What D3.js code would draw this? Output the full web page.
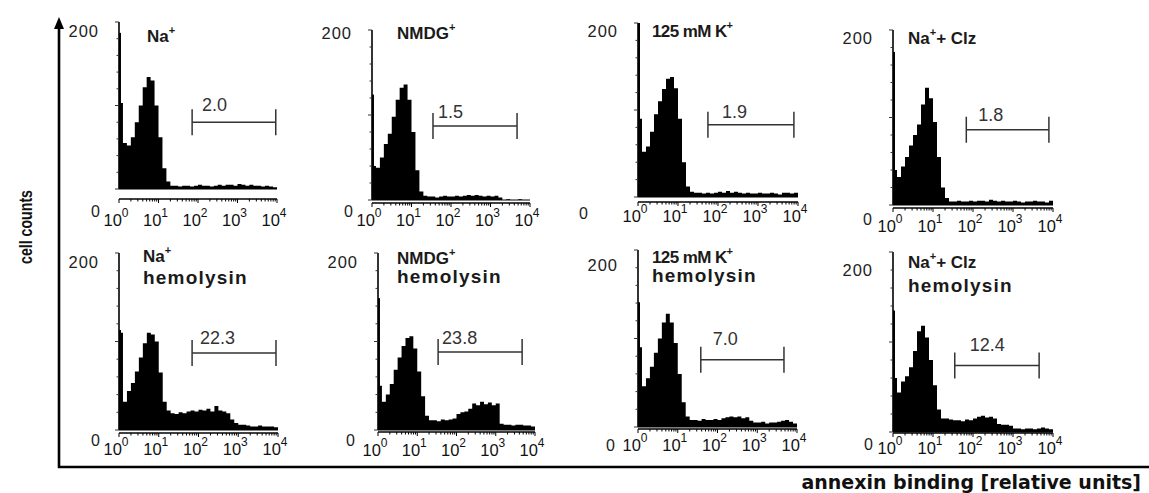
<!DOCTYPE html>
<html><head><meta charset="utf-8">
<script src="https://cdn.jsdelivr.net/npm/d3@7"></script>
<style>body{margin:0;background:#fff} svg{display:block}</style>
</head><body><svg id="c" width="1149" height="493"></svg>
<script>
// ---------- data ----------
const panelTitles = [["Na{+}"],["NMDG{+}"],["125 mM K{+}"],["Na{+}+ Clz"],
  ["Na{+}","hemolysin"],["NMDG{+}","hemolysin"],["125 mM K{+}","hemolysin"],["Na{+}+ Clz","hemolysin"]];
const gateValues = ["2.0","1.5","1.9","1.8","22.3","23.8","7.0","12.4"];
const gateLo = [71, 35, 56, 68, 69, 34, 38, 35];
const gateHi = [9300, 4700, 7900, 7900, 8900, 4700, 4700, 4500];
const gateLevel = [80, 87, 83, 86, 87, 88, 76, 74];
const pileUp = [187, 124, 200, 175, 113, 149, 141, 135];
// counts per 0.1-decade channel, 10^0 .. 10^4
const hNa      = [103,55,52,62,80,100,122,134,130,100, 62,25,9,4,4,3,4,4,3,4, 5,4,4,3,4,5,4,5,5,4, 6,5,4,5,4,4,3,4,3,2];
const hNMDG    = [40,38,50,66,78,98,118,132,136,118, 80,35,10,5,4,4,3,4,5,4, 4,5,4,5,6,5,6,5,4,5, 4,5,3,0,1,0,0,1,0,0];
const hK       = [90,52,58,75,95,110,124,136,138,125, 90,40,12,6,5,5,4,5,4,5, 6,5,7,5,6,5,4,5,4,4, 5,4,4,5,4,3,5,5,4,5];
const hClz     = [40,32,44,55,68,80,92,115,134,122, 95,55,20,8,4,4,5,4,4,5, 4,5,5,4,6,5,4,5,4,4, 5,4,3,4,4,5,4,4,3,5];
const hNaHly   = [110,32,44,53,66,82,98,110,108,100, 65,32,22,19,18,20,19,21,22,21, 23,22,24,21,27,22,21,19,12,8, 6,6,5,4,4,5,4,4,4,3];
const hNMDGHly = [50,32,40,52,68,82,95,104,106,92, 66,38,16,11,11,10,12,11,12,13, 18,20,21,24,30,28,32,29,31,28, 30,7,6,6,5,6,6,5,5,4];
const hKHly    = [90,46,55,68,84,100,118,128,118,95, 60,28,12,8,8,7,9,8,8,9, 8,10,11,12,11,12,10,11,7,5, 5,6,4,5,5,6,7,8,6,4];
const hClzHly  = [60,44,56,62,72,90,112,118,105,80, 52,25,15,15,14,13,13,12,14,13, 15,17,18,16,17,15,9,8,8,7, 4,4,3,4,4,3,4,5,4,3];
const histograms = [hNa, hNMDG, hK, hClz, hNaHly, hNMDGHly, hKHly, hClzHly];
const xTickExponents = ["0","1","2","3","4"];
const yTickLabels = ["0","200"];
const yAxisTitle = "cell counts";
const xAxisTitle = "annexin binding [relative units]";

// ---------- layout ----------
const layout = [
 {x0:119,x1:277,yTop:22,yBase:189,axisY:199,lblY:220,zeroX:100,zeroY:211,y200:31,tx:147,ty:[36],gdx:10,gdy:-17},
 {x0:372,x1:530,yTop:30,yBase:200,axisY:203,lblY:220,zeroX:353,zeroY:211,y200:33,tx:397,ty:[33],gdx:5,gdy:-14},
 {x0:638,x1:798,yTop:23,yBase:197,axisY:202,lblY:216,zeroX:588,zeroY:213,y200:31,tx:652,ty:[31],gdx:14,gdy:-13},
 {x0:893,x1:1053,yTop:30,yBase:205,axisY:208,lblY:226,zeroX:872,zeroY:219,y200:38,tx:908,ty:[38],gdx:12,gdy:-15},
 {x0:119,x1:278,yTop:253,yBase:430,axisY:433,lblY:449,zeroX:100,zeroY:440,y200:262,tx:143,ty:[256,277],gdx:8,gdy:-15},
 {x0:378,x1:535,yTop:253,yBase:430,axisY:432,lblY:450,zeroX:355,zeroY:440,y200:262,tx:397,ty:[258,276],gdx:4,gdy:-14},
 {x0:638,x1:797,yTop:250,yBase:427,axisY:429,lblY:445,zeroX:615,zeroY:445,y200:265,tx:652,ty:[257,275],gdx:12,gdy:-21},
 {x0:893,x1:1053,yTop:252,yBase:432,axisY:433,lblY:448,zeroX:873,zeroY:444,y200:270,tx:908,ty:[262,285],gdx:15,gdy:-20},
];

const svg = d3.select("#c");
const FONT = "'Liberation Sans', Arial, sans-serif";

function richText(sel, str, supSize) {
  const parts = str.split(/(\{[^}]*\})/).filter(s => s.length);
  parts.forEach(p => {
    if (p.startsWith("{")) {
      sel.append("tspan").attr("font-size", supSize).attr("baseline-shift", "super").text(p.slice(1, -1));
    } else {
      sel.append("tspan").text(p);
    }
  });
}

// ---------- big frame axes ----------
svg.append("line").attr("x1",59).attr("x2",59).attr("y1",468).attr("y2",26)
  .attr("stroke","#000").attr("stroke-width",2.6);
svg.append("path").attr("d", d3.line()([[54,29],[59,17],[64,29]]) + "Z").attr("fill","#000");
svg.append("line").attr("x1",58).attr("x2",1149).attr("y1",467).attr("y2",467)
  .attr("stroke","#000").attr("stroke-width",2.6);
svg.append("text").attr("transform","translate(26,227) rotate(-90)")
  .attr("text-anchor","middle").attr("dominant-baseline","central")
  .attr("font-family",FONT).attr("font-weight","bold").attr("font-size",18).attr("fill","#111")
  .attr("textLength",74).attr("lengthAdjust","spacingAndGlyphs")
  .text(yAxisTitle);
svg.append("text").attr("x",1141).attr("y",489).attr("text-anchor","end")
  .attr("font-family","'DejaVu Sans', sans-serif").attr("font-weight","bold").attr("font-size",19).attr("fill","#111")
  .text(xAxisTitle);

// ---------- panels ----------
histograms.forEach((h, k) => {
  const L = layout[k];
  const g = svg.append("g");
  const x = d3.scaleLog().domain([1, 1e4]).range([L.x0, L.x1]);
  const y = d3.scaleLinear().domain([0, 200]).range([L.yBase, L.yTop]);

  // histogram (0.1 decade channels)
  const pts = h.map((v, i) => ({lo: Math.pow(10, i / 10), v}));
  pts.push({lo: 1e4, v: h[h.length - 1]});
  const area = d3.area().curve(d3.curveStepAfter)
    .x(d => x(d.lo)).y0(y(0)).y1(d => y(d.v));
  g.append("path").attr("d", area(pts)).attr("fill","#000");
  // first-channel pile-up
  g.append("rect").attr("x", x(1)).attr("width", x(Math.pow(10,0.05)) - x(1))
    .attr("y", y(pileUp[k])).attr("height", y(0) - y(pileUp[k])).attr("fill","#000");
  // histogram baseline
  g.append("line").attr("x1",x(1)).attr("x2",x(1e4)).attr("y1",y(0)).attr("y2",y(0))
    .attr("stroke","#000").attr("stroke-width",1);

  // y axis
  g.append("line").attr("x1",x(1)).attr("x2",x(1)).attr("y1",y(0)).attr("y2",y(200))
    .attr("stroke","#000").attr("stroke-width",1.6);
  d3.range(0, 201, 20).forEach(t => {
    const major = t % 100 === 0;
    g.append("line").attr("x1",x(1)).attr("x2",x(1) - (major ? 4 : 2.5))
      .attr("y1",y(t)).attr("y2",y(t)).attr("stroke","#333").attr("stroke-width",1);
  });

  // x axis
  g.append("line").attr("x1",x(1)).attr("x2",x(1e4)).attr("y1",L.axisY).attr("y2",L.axisY)
    .attr("stroke","#000").attr("stroke-width",1.6);
  const ticks = [];
  for (let d = 0; d < 4; d++) for (let m = 1; m < 10; m++) ticks.push(m * Math.pow(10, d));
  ticks.push(1e4);
  ticks.forEach(t => {
    const major = Math.abs(Math.log10(t) - Math.round(Math.log10(t))) < 1e-9;
    g.append("line").attr("x1",x(t)).attr("x2",x(t)).attr("y1",L.axisY).attr("y2",L.axisY + (major ? 4 : 2.5))
      .attr("stroke","#000").attr("stroke-width",1);
  });
  // x tick labels
  xTickExponents.forEach((e) => {
    const t = g.append("text").attr("x", x(Math.pow(10, +e)) - 3).attr("y", L.lblY)
      .attr("text-anchor","middle").attr("dominant-baseline","central")
      .attr("font-family",FONT).attr("font-size",16.5).attr("fill","#111");
    richText(t, "10{" + e + "}", 12);
  });
  // y labels
  g.append("text").attr("x", L.zeroX).attr("y", L.zeroY).attr("text-anchor","end")
    .attr("dominant-baseline","central").attr("font-family",FONT).attr("font-size",16).attr("fill","#222")
    .text(yTickLabels[0]);
  g.append("text").attr("x", L.x0 - 20).attr("y", L.y200).attr("text-anchor","end")
    .attr("dominant-baseline","central").attr("font-family",FONT).attr("font-size",16.5)
    .attr("letter-spacing",1).attr("fill","#222").text(yTickLabels[1]);

  // title
  panelTitles[k].forEach((line, j) => {
    const t = g.append("text").attr("x", L.tx).attr("y", L.ty[j])
      .attr("dominant-baseline","central").attr("font-family",FONT).attr("font-weight","bold")
      .attr("font-size", j === 0 ? 17 : 19).attr("fill","#1a1a1a");
    if (j === 1) t.attr("letter-spacing", 1.2);
    if (j === 0 && line.startsWith("125")) t.attr("letter-spacing", -0.6);
    richText(t, line, 11);
  });

  // gate marker
  const gy = y(gateLevel[k]);
  const gx0 = x(gateLo[k]), gx1 = x(gateHi[k]);
  g.append("line").attr("x1",gx0).attr("x2",gx1).attr("y1",gy).attr("y2",gy).attr("stroke","#333").attr("stroke-width",1.5);
  [gx0, gx1].forEach(xx => g.append("line").attr("x1",xx).attr("x2",xx).attr("y1",gy - 13).attr("y2",gy + 13)
    .attr("stroke","#333").attr("stroke-width",1.5));
  g.append("text").attr("x", gx0 + L.gdx).attr("y", gy + L.gdy).attr("dominant-baseline","central")
    .attr("font-family",FONT).attr("font-size",18).attr("fill","#333").text(gateValues[k]);
});
</script></body></html>
